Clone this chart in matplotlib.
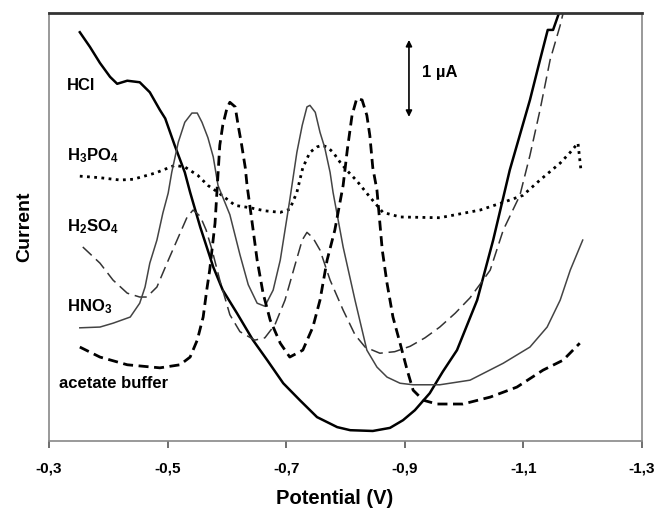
import matplotlib
matplotlib.use("Agg")
import matplotlib.pyplot as plt

plt.rcParams['font.family'] = ['Liberation Sans', 'DejaVu Sans']
plt.rcParams['mathtext.fontset'] = 'custom'
plt.rcParams['mathtext.rm'] = 'Liberation Sans:bold'
plt.rcParams['mathtext.default'] = 'rm'

# stripping voltammograms, potential (V) vs current (uA, arbitrary offset)
hcl_E = [-0.352, -0.369, -0.386, -0.403, -0.415, -0.432, -0.453, -0.470, -0.487,
         -0.496, -0.512, -0.529, -0.538, -0.555, -0.577, -0.593, -0.617, -0.644,
         -0.668, -0.695, -0.723, -0.752, -0.786, -0.808, -0.846, -0.875, -0.897,
         -0.917, -0.942, -0.964, -0.988, -1.022, -1.049, -1.077, -1.111, -1.128,
         -1.141, -1.150, -1.160, -1.163]
hcl_I = [5.31, 5.12, 4.91, 4.73, 4.64, 4.68, 4.66, 4.53, 4.30,
         4.19, 3.84, 3.49, 3.23, 2.78, 2.26, 1.96, 1.66, 1.31,
         1.05, 0.75, 0.53, 0.31, 0.18, 0.14, 0.13, 0.17, 0.27,
         0.40, 0.62, 0.90, 1.18, 1.83, 2.61, 3.52, 4.43, 4.95,
         5.34, 5.34, 5.56, 5.62]

h3po4_E = [-0.352, -0.386, -0.420, -0.442, -0.479, -0.512, -0.529, -0.551, -0.568,
           -0.585, -0.614, -0.639, -0.664, -0.690, -0.706, -0.718, -0.728, -0.740,
           -0.752, -0.760, -0.769, -0.779, -0.791, -0.803, -0.819, -0.841, -0.863,
           -0.892, -0.959, -1.027, -1.066, -1.099, -1.128, -1.162, -1.179, -1.192,
           -1.197]
h3po4_I = [3.44, 3.42, 3.39, 3.40, 3.48, 3.58, 3.56, 3.45, 3.32,
           3.23, 3.06, 3.03, 2.99, 2.97, 3.01, 3.23, 3.55, 3.75,
           3.82, 3.84, 3.82, 3.75, 3.62, 3.51, 3.38, 3.17, 2.97,
           2.91, 2.90, 3.00, 3.10, 3.19, 3.39, 3.61, 3.75, 3.87,
           3.52]

h2so4_E = [-0.357, -0.386, -0.408, -0.432, -0.453, -0.465, -0.482, -0.499, -0.516,
           -0.533, -0.543, -0.555, -0.565, -0.575, -0.588, -0.605, -0.622, -0.647,
           -0.664, -0.681, -0.698, -0.715, -0.727, -0.735, -0.745, -0.757, -0.774,
           -0.796, -0.816, -0.833, -0.858, -0.883, -0.909, -0.934, -0.959, -0.985,
           -1.010, -1.032, -1.044, -1.066, -1.094, -1.111, -1.128, -1.145, -1.162,
           -1.167]
h2so4_I = [2.52, 2.31, 2.09, 1.92, 1.87, 1.87, 2.00, 2.31, 2.61,
           2.91, 3.00, 2.92, 2.74, 2.48, 2.09, 1.64, 1.42, 1.31,
           1.34, 1.51, 1.83, 2.29, 2.61, 2.71, 2.64, 2.48, 2.09,
           1.70, 1.38, 1.22, 1.14, 1.16, 1.23, 1.34, 1.48, 1.66,
           1.86, 2.09, 2.22, 2.74, 3.19, 3.71, 4.30, 4.95, 5.40,
           5.56]

hno3_E = [-0.352, -0.386, -0.408, -0.437, -0.453, -0.462, -0.470, -0.482, -0.492,
          -0.501, -0.507, -0.518, -0.529, -0.541, -0.550, -0.558, -0.568, -0.577,
          -0.585, -0.605, -0.622, -0.636, -0.651, -0.664, -0.678, -0.690, -0.706,
          -0.718, -0.727, -0.735, -0.740, -0.749, -0.757, -0.765, -0.774, -0.779,
          -0.796, -0.816, -0.836, -0.853, -0.870, -0.892, -0.914, -0.959, -1.010,
          -1.066, -1.111, -1.140, -1.162, -1.179, -1.200]
hno3_I = [1.47, 1.48, 1.53, 1.61, 1.79, 2.00, 2.31, 2.61, 2.96,
          3.22, 3.49, 3.88, 4.14, 4.26, 4.26, 4.14, 3.94, 3.69,
          3.32, 2.94, 2.42, 2.03, 1.79, 1.75, 1.96, 2.35, 3.13,
          3.75, 4.10, 4.34, 4.36, 4.27, 4.01, 3.81, 3.49, 3.23,
          2.52, 1.83, 1.18, 0.96, 0.83, 0.75, 0.73, 0.73, 0.79,
          1.01, 1.22, 1.48, 1.83, 2.22, 2.61]

acet_E = [-0.352, -0.386, -0.432, -0.487, -0.521, -0.538, -0.550, -0.560, -0.566,
          -0.571, -0.580, -0.588, -0.593, -0.600, -0.605, -0.614, -0.619, -0.625,
          -0.631, -0.634, -0.642, -0.651, -0.661, -0.673, -0.690, -0.706, -0.728,
          -0.745, -0.757, -0.769, -0.782, -0.796, -0.803, -0.811, -0.819, -0.828,
          -0.836, -0.841, -0.846, -0.853, -0.862, -0.870, -0.880, -0.892, -0.904,
          -0.914, -0.931, -0.954, -0.998, -1.044, -1.089, -1.133, -1.167, -1.195]
acet_I = [1.22, 1.09, 0.99, 0.95, 0.99, 1.09, 1.31, 1.61, 1.96,
          2.22, 2.83, 3.84, 4.10, 4.32, 4.40, 4.34, 4.10, 3.84,
          3.55, 3.32, 2.87, 2.35, 1.92, 1.57, 1.27, 1.09, 1.18,
          1.48, 1.83, 2.35, 2.74, 3.32, 3.78, 4.23, 4.45, 4.43,
          4.23, 3.97, 3.55, 3.26, 2.48, 2.05, 1.61, 1.27, 0.92,
          0.66, 0.53, 0.48, 0.48, 0.57, 0.70, 0.92, 1.05, 1.27]

tick_vals = [-0.3, -0.5, -0.7, -0.9, -1.1, -1.3]
tick_labels = ["-0,3", "-0,5", "-0,7", "-0,9", "-1,1", "-1,3"]
scale_bar = 1.0  # uA

fig = plt.figure(figsize=(6.61, 5.13), dpi=100)
ax = fig.add_axes([0.0741, 0.1404, 0.8972, 0.8343])

ax.plot(hcl_E, hcl_I, color='black', lw=1.8, solid_joinstyle='round')
ax.plot(h3po4_E, h3po4_I, color='black', lw=2.0, linestyle=(0, (1.0, 1.6)))
ax.plot(h2so4_E, h2so4_I, color='#333333', lw=1.1, linestyle=(0, (8.0, 3.8)))
ax.plot(hno3_E, hno3_I, color='#444444', lw=1.1, solid_joinstyle='round')
ax.plot(acet_E, acet_I, color='black', lw=2.0, linestyle=(0, (3.6, 2.0)))

lab = dict(fontsize=12, fontweight='bold', color='black', va='center', ha='left')
ax.text(-0.330, 4.62, 'HCl', **lab)
ax.text(-0.330, 3.71, r'H$_3$PO$_4$', **lab)
ax.text(-0.330, 2.78, r'H$_2$SO$_4$', **lab)
ax.text(-0.330, 1.74, r'HNO$_3$', **lab)
ax.text(-0.317, 0.75, 'acetate buffer', **lab)

# 1 uA scale bar
ax.annotate('', xy=(-0.907, 4.21 + scale_bar), xytext=(-0.907, 4.21),
            arrowprops=dict(arrowstyle='<|-|>', color='black', lw=1.2,
                            mutation_scale=9, shrinkA=0, shrinkB=0))
ax.text(-0.929, 4.79, '1 µA', fontsize=12, fontweight='bold', va='center', ha='left')

ax.set_xlim(-0.3, -1.3)
ax.set_ylim(0, 5.56)
ax.set_xticks(tick_vals)
ax.set_xticklabels(tick_labels, fontsize=11, fontweight='bold')
ax.set_yticks([])
ax.tick_params(axis='x', direction='out', length=5, width=1.2, color='#555555', pad=10)

for s in ['left', 'right', 'bottom']:
    ax.spines[s].set_color('#888888')
    ax.spines[s].set_linewidth(1.2)
ax.spines['top'].set_color('#333333')
ax.spines['top'].set_linewidth(2.0)

ax.set_xlabel('Potential (V)', fontsize=14.5, fontweight='bold')
ax.xaxis.set_label_coords(0.482, -0.112)
ax.set_ylabel('Current', fontsize=14, fontweight='bold')
ax.yaxis.set_label_coords(-0.027, 0.5)

fig.savefig('out.png', dpi=100)
